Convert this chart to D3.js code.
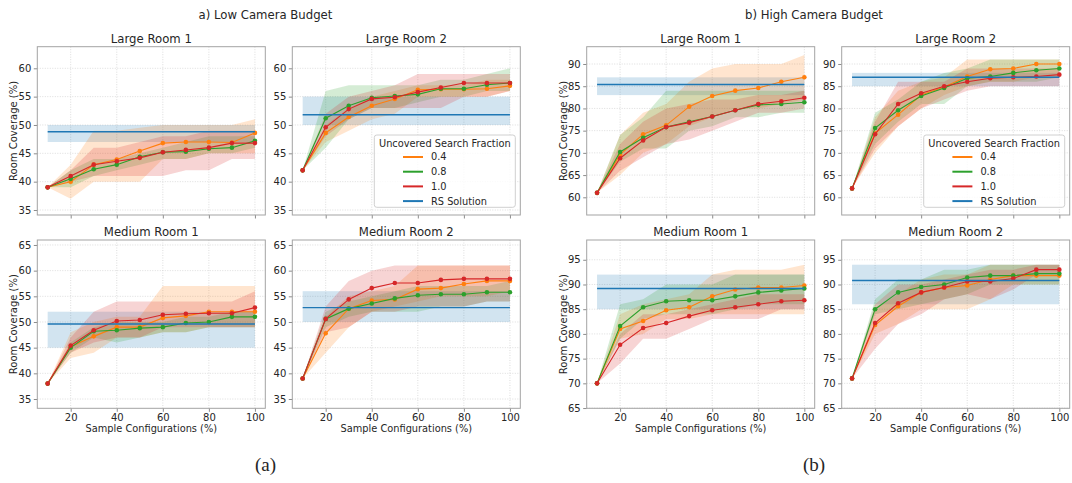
<!DOCTYPE html>
<html>
<head>
<meta charset="utf-8">
<script src="https://cdn.jsdelivr.net/npm/d3@7"></script>
<style>
body { margin: 0; background: #fff; }
text { font-family: "DejaVu Sans", sans-serif; fill: #262626; }
</style>
</head>
<body>
<div id="chart"></div>
<script>
// x values shared by every panel
const sampleConfigs = [10, 20, 30, 40, 50, 60, 70, 80, 90, 100];
const fractions = ["0.4", "0.8", "1.0"];
const panelTitles = ["Large Room 1", "Large Room 2", "Medium Room 1", "Medium Room 2"];
const groupTitles = ["a) Low Camera Budget", "b) High Camera Budget"];
const subLabels = ["(a)", "(b)"];
const xTickValues = [20, 40, 60, 80, 100];
const yTicksLowTop = [35, 40, 45, 50, 55, 60];
const yTicksLowBottom = [35, 40, 45, 50, 55, 60, 65];
const yTicksHighTop = [60, 65, 70, 75, 80, 85, 90];
const yTicksHighBottom = [65, 70, 75, 80, 85, 90, 95];

// rows: 0.4, 0.8, 1.0
// --- low budget, large room 1
const lowL1Mean = [
  [39, 40.0, 43.0, 43.9, 45.4, 46.8, 47.0, 47.0, 46.9, 48.6],
  [39, 40.5, 42.2, 43.0, 44.4, 45.2, 45.3, 45.8, 46.0, 47.2],
  [39, 41.0, 43.0, 43.6, 44.2, 45.2, 45.6, 46.0, 46.8, 46.8]];
const lowL1Lo = [
  [39, 37, 40, 40, 40, 44, 44, 45, 45, 45],
  [39, 39, 41, 42, 43, 44, 44, 45, 45, 46],
  [39, 40, 41, 41, 41, 41, 42, 42, 44, 44]];
const lowL1Hi = [
  [39, 43, 49, 49, 49.5, 50, 50, 50, 50, 51],
  [39, 42, 44, 44, 45, 46, 47, 48, 48, 48],
  [39, 42, 46, 46, 47, 48, 48, 49, 49, 49]];
// --- low budget, large room 2
const lowL2Mean = [
  [42, 48.6, 51.4, 53.4, 54.6, 56.2, 56.3, 56.3, 56.4, 56.9],
  [42, 51.2, 53.4, 54.8, 55.1, 55.4, 56.4, 56.4, 57.1, 57.4],
  [42, 49.6, 52.8, 54.6, 54.9, 55.8, 56.6, 57.4, 57.4, 57.4]];
const lowL2Lo = [
  [42, 47, 49, 51, 52, 55, 55, 55, 55, 56],
  [42, 46, 51, 53, 53, 54, 55, 55, 56, 56],
  [42, 48, 51, 53, 53, 53, 53, 55, 55, 56]];
const lowL2Hi = [
  [42, 50, 53, 55, 56, 57, 57, 57, 58, 58],
  [42, 56, 57, 57, 57, 57, 58, 58, 59, 60],
  [42, 52, 55, 56, 57, 59, 59, 59, 59, 59]];
// --- low budget, medium room 1
const lowM1Mean = [
  [38, 45.2, 47.2, 49.0, 49.0, 50.8, 51.2, 52.0, 52.0, 52.0],
  [38, 45.0, 48.2, 48.4, 48.8, 49.0, 49.8, 50.0, 51.0, 51.0],
  [38, 45.4, 48.4, 50.2, 50.4, 51.4, 51.6, 51.7, 51.7, 52.8]];
const lowM1Lo = [
  [38, 43, 44, 47, 47, 48, 48, 49, 49, 49],
  [38, 44, 47, 46, 47, 48, 48, 49, 49, 49],
  [38, 44, 46, 47, 47, 49, 49, 49, 49, 49]];
const lowM1Hi = [
  [38, 48, 50, 51, 51, 57, 57, 57, 57, 57],
  [38, 46, 49, 50, 50, 50, 51, 51, 52, 52],
  [38, 47, 52, 54, 54, 54, 54, 54, 54, 56]];
// --- low budget, medium room 2
const lowM2Mean = [
  [39, 47.8, 52.6, 54.2, 54.4, 56.4, 56.6, 57.4, 58.0, 58.0],
  [39, 50.6, 52.6, 53.6, 54.6, 55.2, 55.4, 55.4, 55.8, 55.8],
  [39, 50.6, 54.4, 56.6, 57.6, 57.6, 58.2, 58.4, 58.4, 58.4]];
const lowM2Lo = [
  [39, 44, 49, 52, 53, 54, 55, 55, 55, 56],
  [39, 49, 51, 52, 52, 52, 53, 53, 54, 54],
  [39, 48, 49, 52, 52, 53, 53, 53, 54, 54]];
const lowM2Hi = [
  [39, 51, 55, 56, 57, 61, 61, 61, 61, 61],
  [39, 52, 54, 55, 56, 57, 57, 57, 57, 58],
  [39, 53, 58, 60, 61, 61, 61, 61, 61, 61]];
// --- high budget, large room 1
const highL1Mean = [
  [61, 69.6, 74.2, 76.2, 80.4, 82.8, 84.0, 84.6, 86.0, 87.0],
  [61, 70.2, 73.4, 75.8, 77.0, 78.2, 79.6, 80.8, 81.0, 81.4],
  [61, 68.8, 72.8, 75.8, 76.8, 78.2, 79.6, 81.0, 81.6, 82.4]];
const highL1Lo = [
  [61, 65, 70, 72, 76, 78, 80, 80, 81, 82],
  [61, 68, 71, 71, 75, 76, 78, 78, 79, 79],
  [61, 66, 69, 72, 73, 75, 77, 79, 79, 80]];
const highL1Hi = [
  [61, 74, 79, 81, 86, 89, 90, 90, 90, 92],
  [61, 74, 78, 84, 84, 84, 84, 84, 84, 84],
  [61, 72, 77, 80, 81, 82, 82, 83, 83, 84]];
// --- high budget, large room 2
const highL2Mean = [
  [62, 74.4, 78.6, 83.0, 84.8, 87.2, 88.8, 89.0, 90.0, 90.0],
  [62, 75.6, 79.6, 82.8, 84.6, 86.8, 87.2, 88.0, 88.6, 89.0],
  [62, 74.2, 81.0, 83.4, 85.0, 86.0, 86.8, 87.0, 87.2, 87.6]];
const highL2Lo = [
  [62, 70, 76, 80, 83, 85, 86, 86, 87, 87],
  [62, 72, 77, 81, 81, 85, 86, 86, 86, 87],
  [62, 71, 76, 80, 82, 84, 85, 85, 85, 85]];
const highL2Hi = [
  [62, 78, 84, 86, 87, 91, 91, 91, 91, 91],
  [62, 79, 82, 86, 88, 89, 91, 91, 91, 91],
  [62, 77, 86, 86, 86, 89, 89, 89, 89, 89]];
// --- high budget, medium room 1
const highM1Mean = [
  [70, 81.0, 82.6, 84.8, 85.4, 87.6, 89.0, 89.4, 89.4, 89.8],
  [70, 81.6, 85.4, 86.6, 86.8, 86.8, 87.6, 88.4, 88.8, 89.2],
  [70, 77.8, 81.2, 82.2, 83.6, 84.8, 85.4, 86.0, 86.6, 86.8]];
const highM1Lo = [
  [70, 79, 80, 83, 83, 84, 84, 84, 84, 84],
  [70, 79, 83, 84, 84, 84, 85, 86, 86, 86],
  [70, 74, 79, 79, 81, 83, 83, 83, 85, 85]];
const highM1Hi = [
  [70, 84, 86, 87, 88, 92, 93, 93, 93, 94],
  [70, 86, 87, 90, 90, 90, 92, 92, 92, 92],
  [70, 80, 84, 84, 85, 86, 87, 88, 88, 88]];
// --- high budget, medium room 2
const highM2Mean = [
  [71, 81.8, 85.6, 88.4, 89.4, 89.8, 91.0, 91.8, 91.8, 91.8],
  [71, 85.0, 88.4, 89.5, 90.0, 91.4, 91.8, 91.8, 92.2, 92.2],
  [71, 82.2, 86.2, 88.4, 89.4, 90.6, 90.6, 91.2, 93.0, 93.0]];
const highM2Lo = [
  [71, 80, 82, 85, 85, 85, 87, 90, 90, 90],
  [71, 84, 85, 86, 87, 88, 90, 90, 90, 90],
  [71, 77, 82, 84, 87, 88, 87, 89, 92, 92]];
const highM2Hi = [
  [71, 85, 88, 91, 92, 92, 94, 94, 94, 94],
  [71, 87, 91, 91, 93, 93, 94, 94, 94, 94],
  [71, 86, 90, 90, 91, 92, 93, 93, 94, 94]];

// RS solution per panel (lowL1, lowL2, lowM1, lowM2, highL1, highL2, highM1, highM2)
const rsMean = [48.8, 51.8, 49.6, 52.8, 85.4, 87.0, 89.2, 90.8];
const rsLo = [47, 50, 45, 50, 83, 85, 85, 86];
const rsHi = [50, 55, 52, 56, 87, 88, 92, 94];

let width = 1072,
  height = 483,
  pw = 228,
  ph = 168.3;

let colX = [37.3, 292.3, 586.7, 841.7],
  rowY = [46.7, 240];

let colors = ["#ff7f0e", "#2ca02c", "#d62728"],
  rsColor = "#1f77b4";

let svg = d3.select("#chart")
  .append("svg")
  .attr("width", width)
  .attr("height", height);

let panels = [
  {mean: lowL1Mean, lo: lowL1Lo, hi: lowL1Hi, col: 0, row: 0, yd: [34.12, 63.81], ticks: yTicksLowTop},
  {mean: lowL2Mean, lo: lowL2Lo, hi: lowL2Hi, col: 1, row: 0, yd: [34.12, 63.81], ticks: yTicksLowTop},
  {mean: lowM1Mean, lo: lowM1Lo, hi: lowM1Hi, col: 0, row: 1, yd: [33.19, 65.97], ticks: yTicksLowBottom},
  {mean: lowM2Mean, lo: lowM2Lo, hi: lowM2Hi, col: 1, row: 1, yd: [33.19, 65.97], ticks: yTicksLowBottom},
  {mean: highL1Mean, lo: highL1Lo, hi: highL1Hi, col: 2, row: 0, yd: [56.02, 93.89], ticks: yTicksHighTop},
  {mean: highL2Mean, lo: highL2Lo, hi: highL2Hi, col: 3, row: 0, yd: [56.02, 93.89], ticks: yTicksHighTop},
  {mean: highM1Mean, lo: highM1Lo, hi: highM1Hi, col: 2, row: 1, yd: [64.95, 99], ticks: yTicksHighBottom},
  {mean: highM2Mean, lo: highM2Lo, hi: highM2Hi, col: 3, row: 1, yd: [64.95, 99], ticks: yTicksHighBottom}
];

panels.forEach((p, i) => buildPanel(p, i));

function buildPanel(p, i) {
  let x = d3.scaleLinear().domain([5.5, 104.5]).range([0, pw]);
  let y = d3.scaleLinear().domain(p.yd).range([ph, 0]);

  let g = svg.append("g")
    .attr("transform", `translate(${colX[p.col]},${rowY[p.row]})`);

  // grid
  g.append("g").selectAll("line")
    .data(xTickValues)
    .join("line")
    .attr("x1", d => x(d)).attr("x2", d => x(d))
    .attr("y1", 0).attr("y2", ph)
    .attr("stroke", "#d4d4d4").attr("stroke-width", 0.8)
    .attr("stroke-dasharray", "1,1.5");
  g.append("g").selectAll("line")
    .data(p.ticks)
    .join("line")
    .attr("x1", 0).attr("x2", pw)
    .attr("y1", d => y(d)).attr("y2", d => y(d))
    .attr("stroke", "#d4d4d4").attr("stroke-width", 0.8)
    .attr("stroke-dasharray", "1,1.5");

  // RS band
  g.append("rect")
    .attr("x", x(10)).attr("width", x(100) - x(10))
    .attr("y", y(rsHi[i])).attr("height", y(rsLo[i]) - y(rsHi[i]))
    .attr("fill", rsColor).attr("fill-opacity", 0.2);

  let area = d3.area()
    .x((d, k) => x(sampleConfigs[k]))
    .y0(d => y(d[0]))
    .y1(d => y(d[1]));

  let line = d3.line()
    .x((d, k) => x(sampleConfigs[k]))
    .y(d => y(d));

  for (let s = 0; s < 3; s++) {
    let band = p.lo[s].map((v, k) => [v, p.hi[s][k]]);
    g.append("path")
      .attr("d", area(band))
      .attr("fill", colors[s])
      .attr("fill-opacity", 0.2);
  }

  for (let s = 0; s < 3; s++) {
    g.append("path")
      .attr("d", line(p.mean[s]))
      .attr("fill", "none")
      .attr("stroke", colors[s])
      .attr("stroke-width", 1.1);
    g.append("g").selectAll("circle")
      .data(p.mean[s])
      .join("circle")
      .attr("cx", (d, k) => x(sampleConfigs[k]))
      .attr("cy", d => y(d))
      .attr("r", 2.3)
      .attr("fill", colors[s]);
  }

  g.append("line")
    .attr("x1", x(10)).attr("x2", x(100))
    .attr("y1", y(rsMean[i])).attr("y2", y(rsMean[i]))
    .attr("stroke", rsColor).attr("stroke-width", 1.4);

  // axes
  let yAxis = g.append("g")
    .call(d3.axisLeft(y).tickValues(p.ticks).tickSize(3.5).tickPadding(2.5));
  let xAxis = g.append("g")
    .attr("transform", `translate(0,${ph})`)
    .call(d3.axisBottom(x).tickValues(xTickValues).tickSize(3.5).tickPadding(2)
      .tickFormat(p.row == 1 ? d3.format("d") : () => ""));
  [yAxis, xAxis].forEach(a => {
    a.select(".domain").remove();
    a.selectAll(".tick line").attr("stroke", "#8c8c8c");
    a.selectAll(".tick text")
      .style("font-family", "DejaVu Sans")
      .attr("font-size", 10)
      .attr("fill", "#262626");
  });

  // frame
  g.append("rect")
    .attr("width", pw).attr("height", ph)
    .attr("fill", "none")
    .attr("stroke", "#a3a3a3")
    .attr("stroke-width", 1);

  g.append("text")
    .text(panelTitles[p.row * 2 + (p.col % 2)])
    .attr("x", pw / 2)
    .attr("y", -8)
    .attr("dy", "0.35em")
    .attr("text-anchor", "middle")
    .attr("font-size", 11.7);

  if (p.col % 2 == 0) {
    g.append("text")
      .text("Room Coverage (%)")
      .attr("transform", `translate(-23.5,${ph / 2}) rotate(-90)`)
      .attr("dy", "0.35em")
      .attr("text-anchor", "middle")
      .attr("font-size", 10);
  }
  if (p.row == 1) {
    g.append("text")
      .text("Sample Configurations (%)")
      .attr("x", pw / 2)
      .attr("y", 192)
      .attr("text-anchor", "middle")
      .attr("font-size", 9.8);
  }
  if (p.row == 0 && p.col % 2 == 1) {
    buildLegend(g);
  }
}

function buildLegend(g) {
  let lg = g.append("g").attr("transform", "translate(82,88.3)");
  lg.append("rect")
    .attr("width", 141).attr("height", 72.3)
    .attr("rx", 2.5)
    .attr("fill", "#fff").attr("fill-opacity", 0.8)
    .attr("stroke", "#d0d0d0");
  lg.append("text")
    .text("Uncovered Search Fraction")
    .attr("x", 70.5).attr("y", 8.3)
    .attr("dy", "0.35em")
    .attr("text-anchor", "middle")
    .attr("font-size", 9.8);
  let items = fractions.map((f, k) => ({label: f, color: colors[k]}));
  items.push({label: "RS Solution", color: rsColor});
  items.forEach((it, k) => {
    let yy = 22 + k * 14.7;
    lg.append("line")
      .attr("x1", 28.7).attr("x2", 48.7)
      .attr("y1", yy).attr("y2", yy)
      .attr("stroke", it.color).attr("stroke-width", 2);
    lg.append("text")
      .text(it.label)
      .attr("x", 56.7).attr("y", yy)
      .attr("dy", "0.35em")
      .attr("font-size", 9.8);
  });
}

// group titles and sub-figure labels
[265.5, 814].forEach((cx, k) => {
  svg.append("text")
    .text(groupTitles[k])
    .attr("x", cx).attr("y", 15)
    .attr("dy", "0.35em")
    .attr("text-anchor", "middle")
    .attr("font-size", 11.7);
  svg.append("text")
    .text(subLabels[k])
    .attr("x", cx).attr("y", 464)
    .attr("dy", "0.35em")
    .attr("text-anchor", "middle")
    .style("font-family", "Liberation Serif")
    .attr("font-size", 19);
});
</script>
</body>
</html>
